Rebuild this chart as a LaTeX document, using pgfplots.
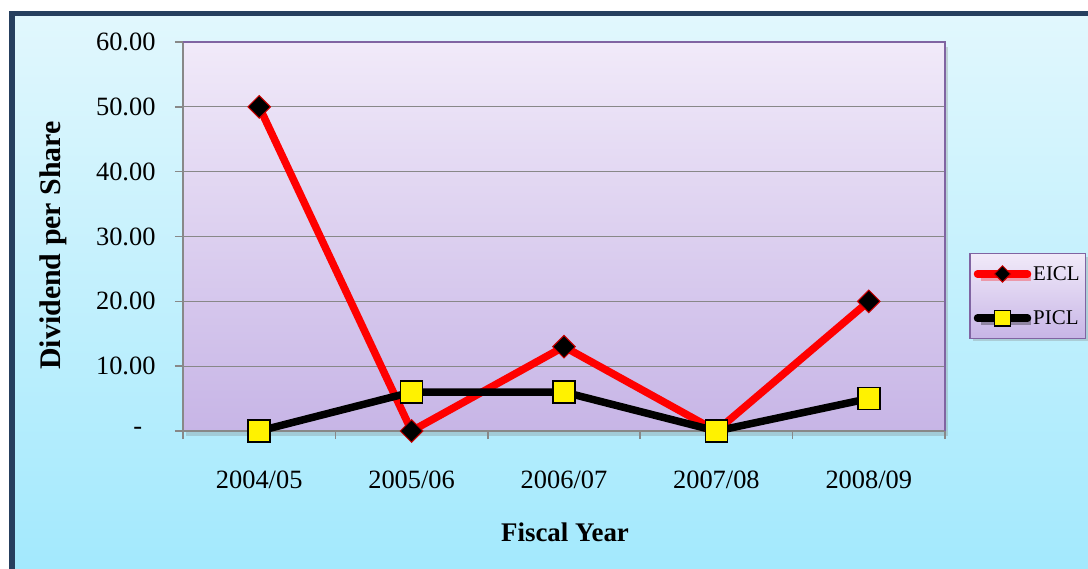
\documentclass[border=0pt]{standalone}
\usepackage{pgfplots}
\pgfplotsset{compat=1.18}
\usepackage{fontspec}
\setmainfont{Liberation Serif}
\usetikzlibrary{shadows}
\definecolor{framecol}{HTML}{263F5E}
\definecolor{bgtop}{HTML}{E1F7FD}
\definecolor{bgbot}{HTML}{A3E9FD}
\definecolor{plottop}{HTML}{F1EAF9}
\definecolor{plotbot}{HTML}{C7B5E6}
\definecolor{pborder}{HTML}{8064A2}
\definecolor{gridgray}{HTML}{888888}
\begin{document}
\begin{tikzpicture}[x=1bp,y=1bp]
\useasboundingbox (0bp,0bp) rectangle (1088bp,569bp);
\fill[framecol] (9bp,0bp) rectangle (1088bp,558bp);
\shade[top color=bgtop,bottom color=bgbot] (15bp,0bp) rectangle (1088bp,552bp);
\begin{axis}[
  at={(183bp,138bp)}, anchor=south west,
  width=762bp, height=389bp, scale only axis,
  xmin=-0.5, xmax=4.5, ymin=0, ymax=60,
  axis background/.style={top color=plottop, bottom color=plotbot,
    drop shadow={shadow xshift=3bp, shadow yshift=-5bp, opacity=0.3}},
  xtick={-0.5,0.5,...,4.5}, xticklabels={},
  extra x ticks={0,1,2,3,4},
  extra x tick labels={2004/05,2005/06,2006/07,2007/08,2008/09},
  extra x tick style={major tick length=0pt, grid=none},
  ytick={0,10,20,30,40,50,60},
  yticklabels={-\hphantom{0},10.00,20.00,30.00,40.00,50.00,60.00},
  axis lines=left, axis line style={-, draw=gridgray, line width=1.8bp},
  tick align=outside, major tick length=8bp,
  tick style={gridgray, line width=1.5bp},
  ymajorgrids, grid style={gridgray, line width=1.3bp},
  ticklabel style={font=\fontsize{26.5}{30}\selectfont},
  yticklabel style={xshift=-16bp},
  xticklabel style={yshift=-36bp},
  xlabel={\textbf{Fiscal Year}},
  ylabel={\textbf{Dividend per Share}},
  xlabel style={font=\fontsize{27}{30}\selectfont, at={(rel axis cs:0.5013,-0.2596)}, anchor=center},
  ylabel style={font=\fontsize{30}{34}\selectfont, at={(rel axis cs:-0.1706,0.477)}, anchor=center, rotate=0},
  clip=false,
  legend style={at={(1.0315,0.4576)}, anchor=north west,
    draw=pborder, line width=1.5bp, top color=plottop, bottom color=plotbot,
    drop shadow={shadow xshift=3bp, shadow yshift=-3bp, opacity=0.3},
    font=\fontsize{21}{24}\selectfont, inner xsep=4bp, inner ysep=10.5bp,
    row sep=25bp},
  legend cell align=left,
  legend image code/.code={\draw[#1, line cap=round, mark repeat=2, mark phase=2, /tikz/every mark/.append style={scale=0.72}] plot coordinates {(0bp,0bp) (25bp,0bp) (50bp,0bp)};},
]
\draw[pborder, line width=2bp] (rel axis cs:0,1) -- (rel axis cs:1,1) -- (rel axis cs:1,0);
\addplot[red, line width=7.5bp, mark=square*, mark size=8bp,
  mark options={rotate=45, fill=black, draw=red!80!black, line width=1bp}]
  coordinates {(0,50) (1,0) (2,13) (3,0) (4,20)};
\addlegendentry{EICL}
\addplot[black, line width=7.5bp, mark=square*, mark size=11bp,
  mark options={fill=yellow, draw=black, line width=1.5bp}]
  coordinates {(0,0) (1,6) (2,6) (3,0) (4,5)};
\addlegendentry{PICL}
\end{axis}
\end{tikzpicture}
\end{document}
